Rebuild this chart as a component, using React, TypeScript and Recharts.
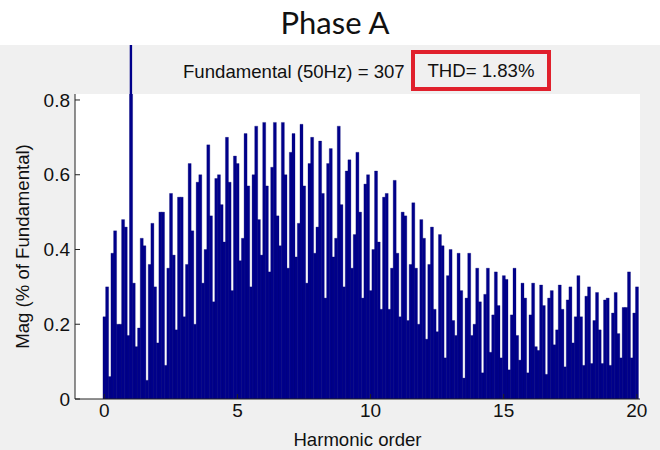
import React from 'react';
import { BarChart, Bar, XAxis, YAxis, CartesianGrid, ReferenceLine, Label } from 'recharts';

const FONT = "'Liberation Sans', Arial, Helvetica, sans-serif";
const NAVY = '#00008B';

// one bar every 0.1 harmonic order, from 0 to 20
const ORDER_STEP = 0.1;
const FUNDAMENTAL_ORDER = 1;
const FUNDAMENTAL_MAG = 100;

// Mag (% of Fundamental)
const MAGNITUDES = [
  0.22, 0.30, 0.06, 0.39, 0.45, 0.20, 0.20, 0.48, 0.46, 0.17,
  FUNDAMENTAL_MAG, 0.31, 0.14, 0.19, 0.43, 0.41, 0.05, 0.36, 0.47, 0.30,
  0.15, 0.50, 0.50, 0.09, 0.35, 0.55, 0.385, 0.185, 0.54, 0.54,
  0.22, 0.36, 0.63, 0.45, 0.20, 0.58, 0.60, 0.31, 0.40, 0.68,
  0.49, 0.26, 0.59, 0.60, 0.52, 0.42, 0.70, 0.58, 0.29, 0.65,
  0.63, 0.37, 0.43, 0.71, 0.57, 0.30, 0.60, 0.73, 0.48, 0.385,
  0.74, 0.57, 0.34, 0.62, 0.74, 0.49, 0.41, 0.74, 0.60, 0.35,
  0.66, 0.71, 0.38, 0.47, 0.735, 0.57, 0.31, 0.63, 0.70, 0.39,
  0.46, 0.69, 0.55, 0.27, 0.63, 0.67, 0.38, 0.43, 0.73, 0.52,
  0.30, 0.61, 0.64, 0.35, 0.44, 0.66, 0.50, 0.27, 0.575, 0.60,
  0.29, 0.40, 0.61, 0.42, 0.24, 0.54, 0.55, 0.24, 0.35, 0.585,
  0.39, 0.22, 0.50, 0.49, 0.21, 0.36, 0.525, 0.35, 0.20, 0.48,
  0.43, 0.16, 0.36, 0.46, 0.24, 0.18, 0.44, 0.41, 0.11, 0.33,
  0.40, 0.21, 0.17, 0.39, 0.29, 0.056, 0.27, 0.39, 0.17, 0.20,
  0.35, 0.26, 0.07, 0.28, 0.35, 0.125, 0.225, 0.34, 0.25, 0.11,
  0.33, 0.32, 0.078, 0.225, 0.35, 0.17, 0.104, 0.31, 0.27, 0.07,
  0.225, 0.31, 0.14, 0.13, 0.305, 0.25, 0.066, 0.27, 0.29, 0.145,
  0.185, 0.305, 0.24, 0.086, 0.265, 0.30, 0.15, 0.22, 0.33, 0.22,
  0.09, 0.275, 0.30, 0.095, 0.21, 0.285, 0.185, 0.095, 0.265, 0.27,
  0.09, 0.23, 0.285, 0.175, 0.11, 0.245, 0.245, 0.34, 0.11, 0.23,
  0.30,
];

const X_TICKS = [0, 5, 10, 15, 20];
const Y_TICKS = [0, 0.2, 0.4, 0.6, 0.8];
const Y_TICK_LABELS = ['0', '0.2', '0.4', '0.6', '0.8'];

const X_DOMAIN: [number, number] = [-1.1, 20.12];
const Y_DOMAIN: [number, number] = [0, 0.816];

const data = MAGNITUDES.map((mag, i) => ({
  order: Number((i * ORDER_STEP).toFixed(1)),
  mag,
}));

const tickStyle = { fontSize: 19, fill: '#111', fontFamily: FONT };
const frame = '#222';

export default function App() {
  return (
    <div style={{ position: 'absolute', left: 0, top: 0, width: 660, height: 450, background: '#fff', fontFamily: FONT }}>
      <div style={{ position: 'absolute', left: 10, top: 2, width: 650, textAlign: 'center', fontFamily: 'Lato, "Open Sans", sans-serif', fontSize: 31, lineHeight: '40px', color: '#111' }}>
        Phase A
      </div>
      <div style={{ position: 'absolute', left: 0, top: 45, width: 660, height: 405, background: '#f0f0f0', overflow: 'hidden' }}>
        <div style={{ position: 'absolute', left: 183, top: 16, fontSize: 18.6, lineHeight: '22px', color: '#111', whiteSpace: 'nowrap' }}>
          Fundamental (50Hz) = 307
        </div>
        <div style={{ position: 'absolute', left: 411, top: 5, width: 132, height: 33, border: '4px solid #e0202c', fontSize: 18.6, lineHeight: '33px', textAlign: 'center', color: '#111', whiteSpace: 'nowrap' }}>
          THD= 1.83%
        </div>
        <BarChart width={660} height={405} data={data} margin={{ top: 49, right: 20, bottom: 0, left: 0 }} barCategoryGap={0}>
          <CartesianGrid horizontal={false} vertical={false} fill="#fff" />
          <XAxis dataKey="order" type="number" domain={X_DOMAIN} ticks={X_TICKS} allowDataOverflow height={51}
            tickSize={-5} tickMargin={10} stroke={frame} tick={tickStyle}>
            <Label value="Harmonic order" position="insideBottom" offset={4} style={{ fontSize: 18.6, fill: '#111', fontFamily: FONT }} />
          </XAxis>
          <XAxis xAxisId="top" orientation="top" dataKey="order" type="number" domain={X_DOMAIN} ticks={X_TICKS} allowDataOverflow height={0}
            tickSize={-5} tick={false} stroke={frame} />
          <YAxis type="number" domain={Y_DOMAIN} ticks={Y_TICKS} allowDataOverflow width={75} tickSize={-5} tickMargin={10}
            tickFormatter={(v: number) => Y_TICK_LABELS[Y_TICKS.indexOf(v)] ?? String(v)} stroke={frame} tick={tickStyle}>
            <Label value="Mag (% of Fundamental)" angle={-90} position="insideLeft" offset={22}
              style={{ fontSize: 18.6, fill: '#111', fontFamily: FONT, textAnchor: 'middle' }} />
          </YAxis>
          <YAxis yAxisId="right" orientation="right" type="number" domain={Y_DOMAIN} ticks={Y_TICKS} allowDataOverflow width={0}
            tickSize={-5} tick={false} stroke={frame} />
          <Bar dataKey="mag" fill={NAVY} stroke="#000070" strokeWidth={0.3} isAnimationActive={false} />
          <ReferenceLine segment={[{ x: FUNDAMENTAL_ORDER, y: 0 }, { x: FUNDAMENTAL_ORDER, y: FUNDAMENTAL_MAG }]}
            ifOverflow="visible" stroke={NAVY} strokeWidth={2.4} />
        </BarChart>
      </div>
    </div>
  );
}
